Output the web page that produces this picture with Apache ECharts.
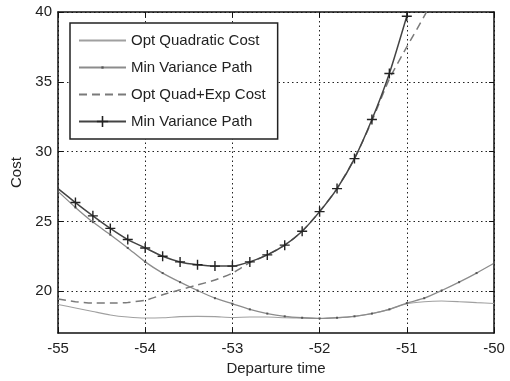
<!DOCTYPE html>
<html>
<head>
<meta charset="utf-8">
<script src="https://cdn.jsdelivr.net/npm/echarts@6/dist/echarts.min.js"></script>
<style>html,body{margin:0;padding:0;background:#fff;}#c{width:510px;height:381px;}</style>
</head>
<body>
<div id="c"></div>
<script>
// Departure time grid (x values)
const departure = [-55,-54.8,-54.6,-54.4,-54.2,-54,-53.8,-53.6,-53.4,-53.2,-53,-52.8,-52.6,-52.4,-52.2,-52,-51.8,-51.6,-51.4,-51.2,-51,-50.8,-50.6,-50.4,-50.2,-50];
// Opt Quadratic Cost
const optQuadCost = [19.05,18.8,18.55,18.3,18.15,18.08,18.1,18.18,18.2,18.18,18.12,18.15,18.15,18.1,18.08,18.05,18.1,18.2,18.4,18.7,19.1,19.25,19.3,19.25,19.18,19.12];
// Min Variance Path (first)
const minVarPath1 = [27.15,26.0,24.95,24.05,23.1,22.1,21.3,20.65,20.05,19.5,19.1,18.7,18.4,18.2,18.1,18.05,18.1,18.2,18.4,18.7,19.15,19.5,20.05,20.65,21.3,22.0];
// Opt Quad+Exp Cost
const optQuadExpCost = [19.45,19.25,19.15,19.15,19.2,19.35,19.75,20.1,20.45,20.8,21.3,22.05,22.6,23.3,24.3,25.7,27.35,29.5,32.2,35.2,37.5,39.7,42.0];
// Min Variance Path (second)
const minVarPath2 = [27.35,26.35,25.4,24.5,23.7,23.1,22.5,22.1,21.9,21.8,21.8,22.1,22.6,23.3,24.3,25.7,27.35,29.5,32.3,35.6,39.7];

const seriesNames = ['Opt Quadratic Cost','Min Variance Path','Opt Quad+Exp Cost','Min Variance Path '];
const yTicks = [20,25,30,35,40];

function pairs(vals){ return vals.map((v,i)=>[departure[i], v]); }

const FONT = 'Liberation Sans';
const plusPath = 'path://M4.3,0h1.4v4.3h4.3v1.4h-4.3v4.3h-1.4v-4.3h-4.3v-1.4h4.3z';
const dotPath = 'path://M0,0M10,10M4,4h2v2h-2z';
const gridStyle = {color:'#222', width:1, type:[1.5,3]};

const chart = echarts.init(document.getElementById('c'), null, {renderer:'canvas'});
const axisLineStyle = {show:true, lineStyle:{color:'#111', width:1.5}};
const tickStyle = {show:true, inside:true, length:5, lineStyle:{color:'#111', width:1}};
chart.setOption({
  animation:false,
  backgroundColor:'#fff',
  grid:{left:58, right:16, top:12, bottom:42, show:false},
  legend:{
    orient:'vertical', left:70, top:23,
    padding:[10,12,10,8], itemGap:12, itemWidth:47, itemHeight:14,
    backgroundColor:'#fff', borderColor:'#222', borderWidth:1.5, borderRadius:0,
    textStyle:{fontFamily:FONT, fontSize:15, color:'#222'},
    data: [
      {name:seriesNames[0], itemStyle:{opacity:0}},
      {name:seriesNames[1]},
      {name:seriesNames[2], itemStyle:{opacity:0}},
      {name:seriesNames[3]}
    ]
  },
  xAxis:[{
    type:'value', min:-55, max:-50, interval:1, position:'bottom',
    axisLine:axisLineStyle, axisTick:tickStyle,
    axisLabel:{fontFamily:FONT, fontSize:15, color:'#222', margin:8},
    splitLine:{show:true, lineStyle:gridStyle},
    name:'Departure time', nameLocation:'middle', nameGap:24,
    nameTextStyle:{fontFamily:FONT, fontSize:15, color:'#222'}
  },{
    type:'value', min:-55, max:-50, interval:1, position:'top',
    axisLine:axisLineStyle, axisTick:tickStyle,
    axisLabel:{show:false}, splitLine:{show:false}
  }],
  yAxis:[{
    type:'value', min:17, max:40, position:'left',
    axisLine:axisLineStyle,
    axisTick:Object.assign({customValues:yTicks}, tickStyle),
    axisLabel:{fontFamily:FONT, fontSize:15, color:'#222', margin:6, customValues:yTicks},
    splitLine:{show:true, lineStyle:gridStyle},
    name:'Cost', nameLocation:'middle', nameGap:30, nameRotate:90,
    nameTextStyle:{fontFamily:FONT, fontSize:15, color:'#222'}
  },{
    type:'value', min:17, max:40, position:'right',
    axisLine:axisLineStyle,
    axisTick:Object.assign({customValues:yTicks}, tickStyle),
    axisLabel:{show:false, customValues:yTicks}, splitLine:{show:false}
  }],
  series:[{
    name:seriesNames[0], type:'line', data:pairs(optQuadCost), smooth:0.2,
    symbol:'none', lineStyle:{color:'#a0a0a0', width:1.1}, itemStyle:{color:'#a0a0a0'}
  },{
    name:seriesNames[1], type:'line', data:pairs(minVarPath1), smooth:0.2,
    symbol:dotPath, symbolSize:10, showAllSymbol:true,
    lineStyle:{color:'#8c8c8c', width:1.3}, itemStyle:{color:'#555'}
  },{
    name:seriesNames[2], type:'line', data:pairs(optQuadExpCost), smooth:0.2,
    symbol:'none', lineStyle:{color:'#7a7a7a', width:1.5, type:[8,5]}, itemStyle:{color:'#7a7a7a'}
  },{
    name:seriesNames[3], type:'line',
    data:pairs(minVarPath2).map((p,i)=> i===0 ? {value:p, symbol:'none'} : p),
    smooth:0.2,
    symbol:plusPath, symbolSize:10, showAllSymbol:true,
    lineStyle:{color:'#444', width:1.5}, itemStyle:{color:'#222'}, z:5
  }]
});
</script>
</body>
</html>
